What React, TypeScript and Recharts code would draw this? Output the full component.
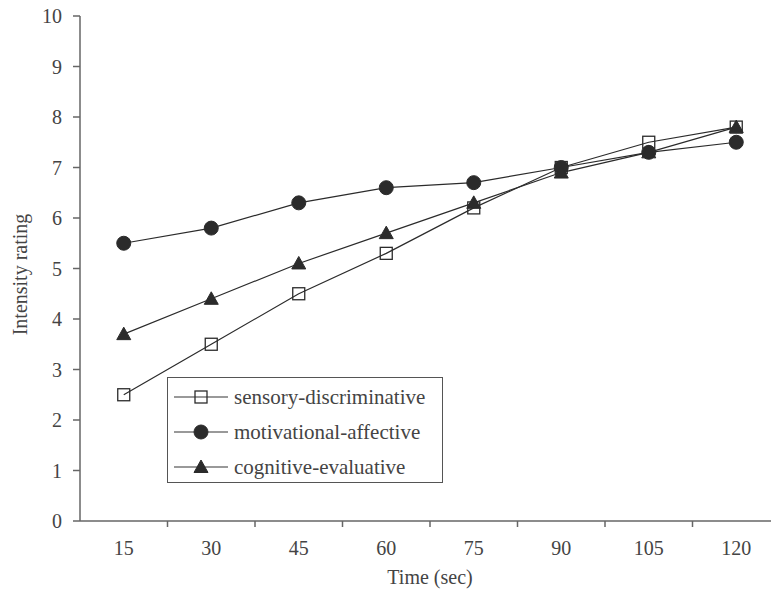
import React from 'react';
import { LineChart, Line, XAxis, YAxis, Label } from 'recharts';

// time points (sec) and mean intensity ratings
const times = [15, 30, 45, 60, 75, 90, 105, 120];
const sensory = [2.5, 3.5, 4.5, 5.3, 6.2, 7.0, 7.5, 7.8];
const motivational = [5.5, 5.8, 6.3, 6.6, 6.7, 7.0, 7.3, 7.5];
const cognitive = [3.7, 4.4, 5.1, 5.7, 6.3, 6.9, 7.3, 7.8];

const yTicks = [0, 1, 2, 3, 4, 5, 6, 7, 8, 9, 10];
// tick marks sit between the time labels
const boundaryTicks = [22.5, 37.5, 52.5, 67.5, 82.5, 97.5, 112.5];

const series = [
  { key: 'sensory', name: 'sensory-discriminative', shape: 'square' },
  { key: 'motivational', name: 'motivational-affective', shape: 'circle' },
  { key: 'cognitive', name: 'cognitive-evaluative', shape: 'triangle' },
];

const data = times.map((t, i) => ({
  t,
  sensory: sensory[i],
  motivational: motivational[i],
  cognitive: cognitive[i],
}));

const FONT = '"Liberation Serif", "DejaVu Serif", serif';
const INK = '#2b2b2b';
const AXIS = '#666';

function Marker({ cx, cy, shape }: { cx: number; cy: number; shape: string }) {
  if (cx == null || cy == null) return null;
  if (shape === 'square') {
    return <rect x={cx - 6} y={cy - 6} width={12} height={12} fill="none" stroke={INK} strokeWidth={1.3} />;
  }
  if (shape === 'circle') {
    return <circle cx={cx} cy={cy} r={7} fill={INK} stroke={INK} />;
  }
  return <path d={`M${cx},${cy - 7} L${cx + 7},${cy + 5.5} L${cx - 7},${cy + 5.5} Z`} fill={INK} stroke={INK} />;
}

function TimeTick(props: any) {
  const { x, y, payload } = props;
  const v = payload.value;
  if (v % 15 !== 0) {
    return <line x1={x} y1={y} x2={x} y2={y + 6} stroke={AXIS} strokeWidth={1.5} />;
  }
  return (
    <text x={x} y={y + 34} textAnchor="middle" fill="#444" fontSize={20} fontFamily={FONT}>
      {v}
    </text>
  );
}

function LegendBox() {
  return (
    <div
      style={{
        position: 'absolute',
        left: 167,
        top: 377,
        width: 274,
        height: 104,
        border: '1.5px solid #555',
        background: '#fff',
        fontFamily: FONT,
        fontSize: 21,
        color: '#444',
      }}
    >
      {series.map((s, i) => (
        <div
          key={s.key}
          style={{ position: 'absolute', left: 6, top: 7 + i * 35, height: 24, display: 'flex', alignItems: 'center' }}
        >
          <svg width={56} height={24} style={{ marginRight: 4 }}>
            <line x1={0} y1={12} x2={54} y2={12} stroke="#777" strokeWidth={1.3} />
            <Marker cx={27} cy={12} shape={s.shape} />
          </svg>
          <span>{s.name}</span>
        </div>
      ))}
    </div>
  );
}

export default function App() {
  return (
    <div style={{ position: 'absolute', left: 0, top: 0, width: 771, height: 590, overflow: 'hidden', background: '#fff' }}>
      <LineChart width={790} height={590} data={data} margin={{ top: 16, right: 10, bottom: 0, left: 0 }}>
        <XAxis
          dataKey="t"
          type="number"
          domain={[7.5, 127.5]}
          ticks={[...times, ...boundaryTicks].sort((a, b) => a - b)}
          interval={0}
          tick={<TimeTick />}
          tickLine={false}
          tickSize={0}
          tickMargin={0}
          height={69}
          axisLine={{ stroke: AXIS, strokeWidth: 1.5 }}
        >
          <Label
            content={({ viewBox }: any) => (
              <text
                x={viewBox.x + viewBox.width / 2}
                y={viewBox.y + 63}
                textAnchor="middle"
                fill="#444"
                fontSize={20}
                fontFamily={FONT}
              >
                Time (sec)
              </text>
            )}
          />
        </XAxis>
        <YAxis
          type="number"
          domain={[0, 10]}
          ticks={yTicks}
          interval={0}
          width={80}
          tickSize={7}
          tickMargin={11}
          tick={{ fill: '#444', fontSize: 20, fontFamily: FONT }}
          tickLine={{ stroke: AXIS, strokeWidth: 1.5 }}
          axisLine={{ stroke: AXIS, strokeWidth: 1.5 }}
        >
          <Label
            content={({ viewBox }: any) => {
              const cy = viewBox.y + viewBox.height / 2 + 6;
              return (
                <text
                  x={27}
                  y={cy}
                  transform={`rotate(-90, 27, ${cy})`}
                  textAnchor="middle"
                  fill="#444"
                  fontSize={20}
                  fontFamily={FONT}
                >
                  Intensity rating
                </text>
              );
            }}
          />
        </YAxis>
        {series.map((s) => (
          <Line
            key={s.key}
            dataKey={s.key}
            name={s.name}
            type="linear"
            stroke={INK}
            strokeWidth={1.2}
            isAnimationActive={false}
            dot={(p: any) => <Marker key={`${s.key}-${p.index}`} cx={p.cx} cy={p.cy} shape={s.shape} />}
            activeDot={false}
          />
        ))}
      </LineChart>
      <LegendBox />
    </div>
  );
}
